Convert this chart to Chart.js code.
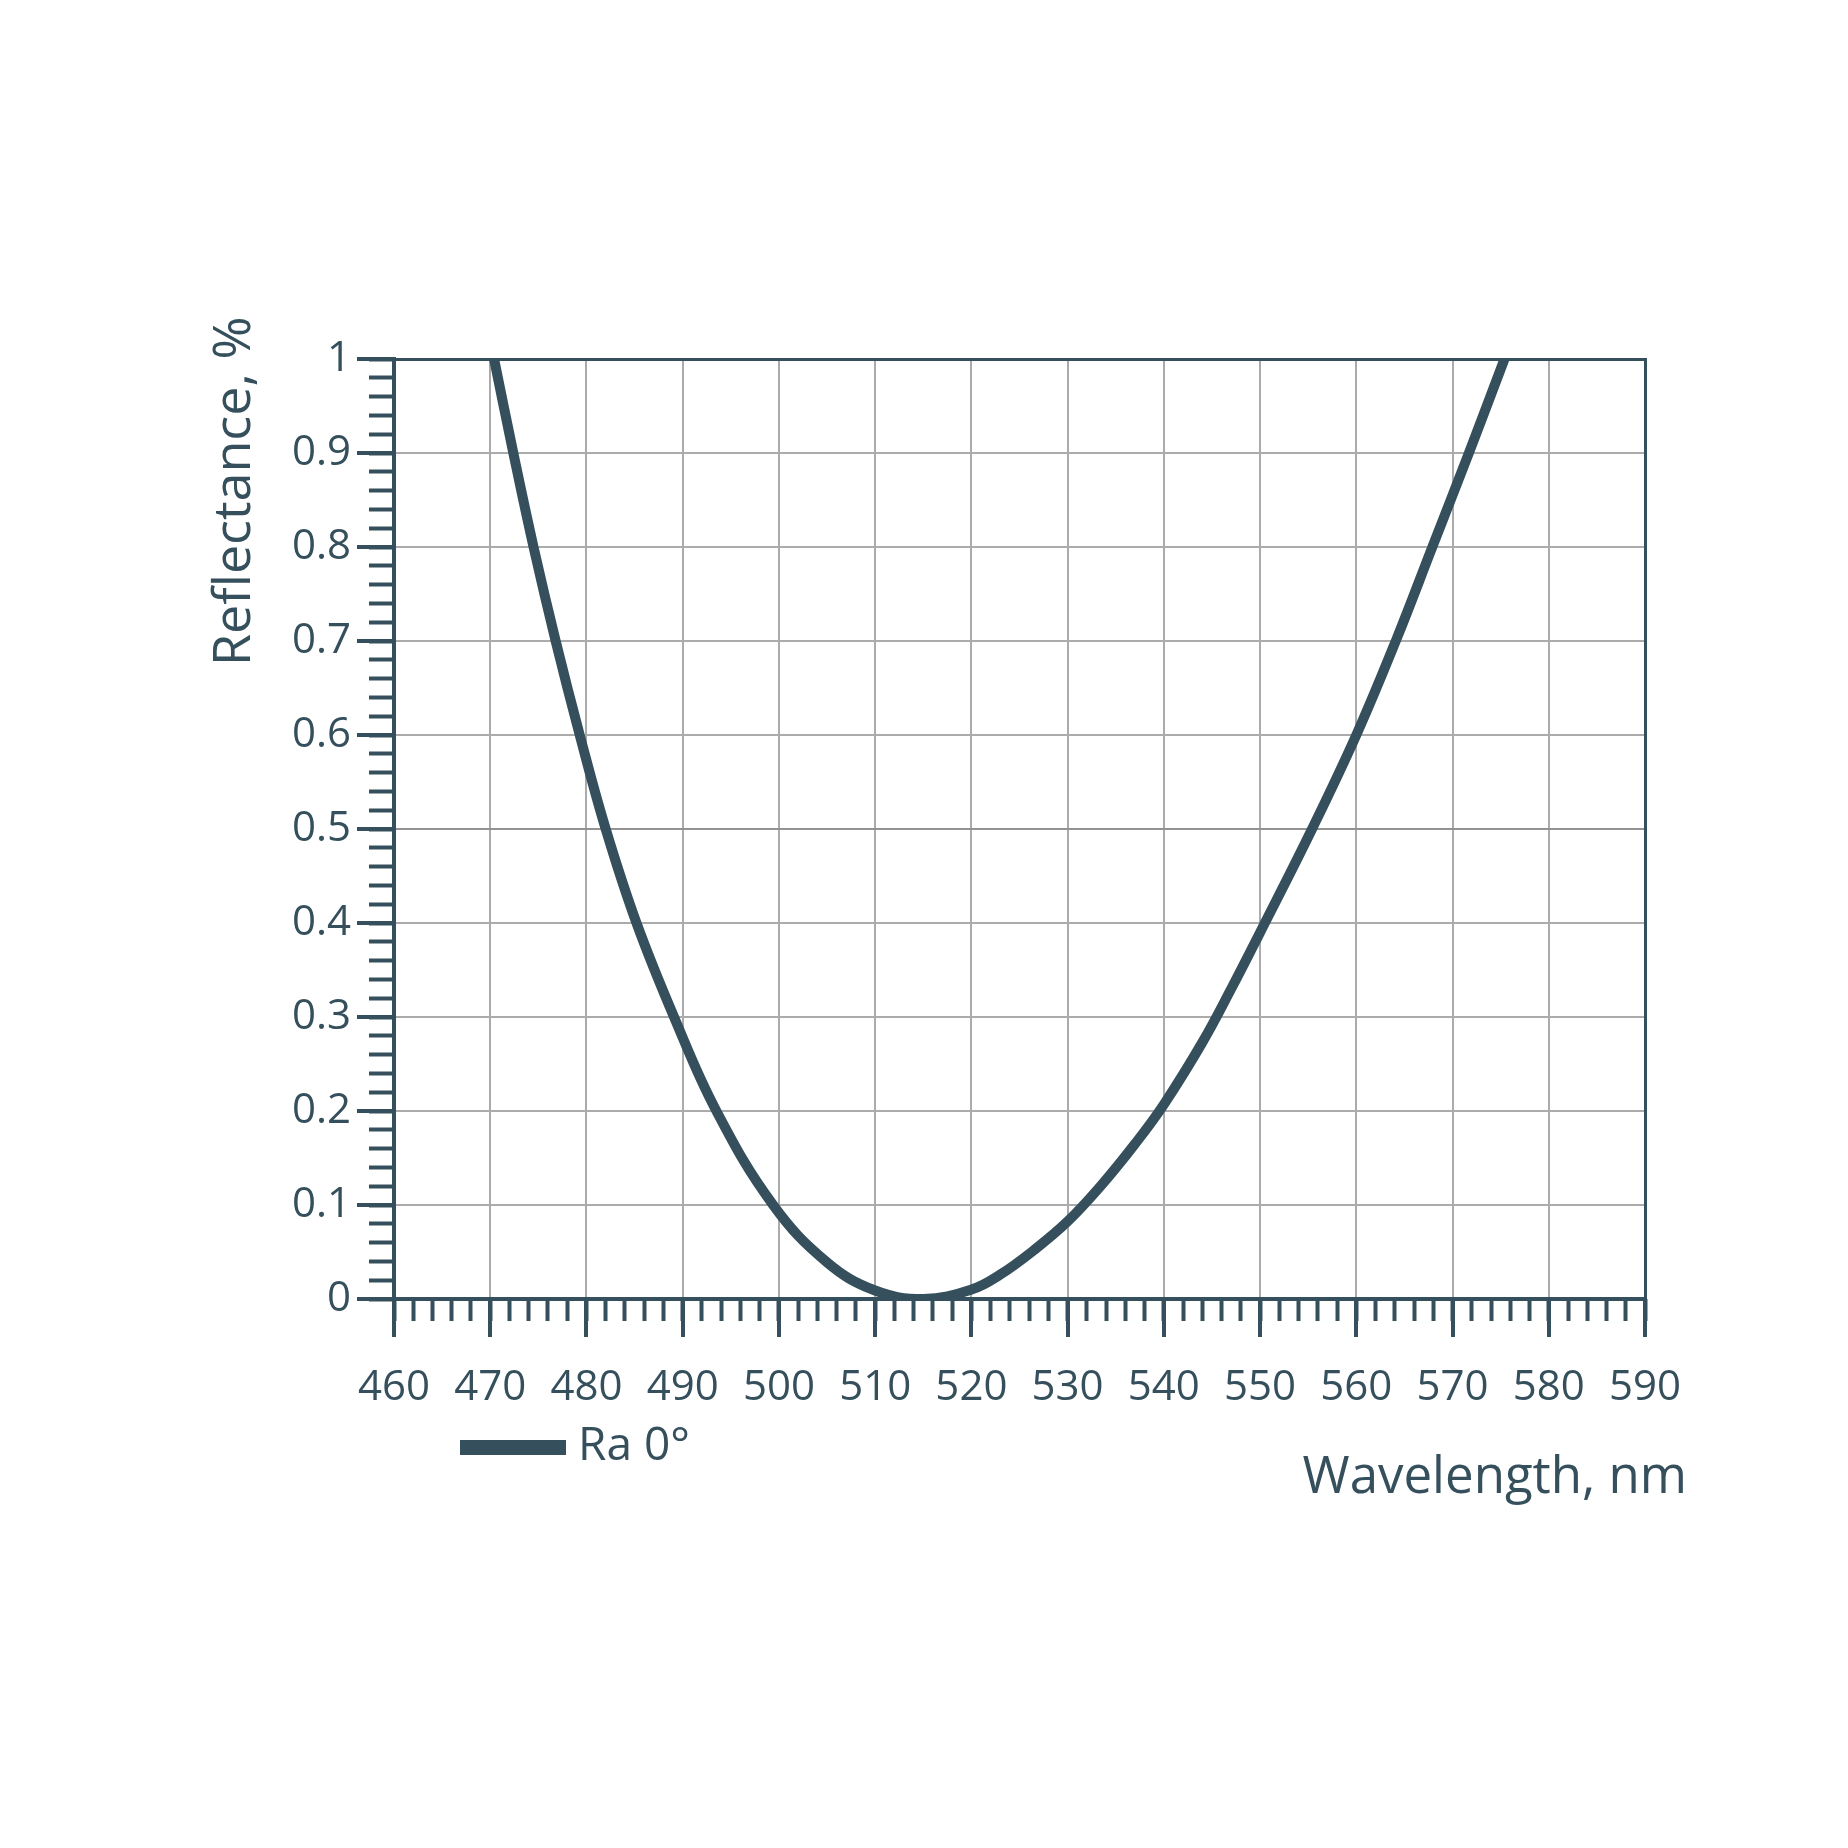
<!DOCTYPE html>
<html>
<head>
<meta charset="utf-8">
<script src="https://cdn.jsdelivr.net/npm/chart.js@4.4.1/dist/chart.umd.min.js"></script>
<style>
    body { margin: 0; background: #ffffff; }
    canvas { display: block; }
</style>
</head>
<body>
<canvas id="myChart" width="1848" height="1848"></canvas>
<script>
// dados (comprimento de onda em nm, refletancia)
let comprimentos = [470.4, 472.4, 474.5, 476.8, 479.3, 482.0, 485.2, 489.1, 493.5, 499.4, 505, 510, 515,
    520, 523, 526.5, 530, 533.5, 537, 540, 544, 547, 550, 555.4, 560, 564.1, 567.9, 571.7, 575.4];
let refletancia = [1.0, 0.9, 0.8, 0.7, 0.6, 0.5, 0.4, 0.3, 0.2, 0.1, 0.039, 0.009, 0.0,
    0.010, 0.026, 0.052, 0.0825, 0.121, 0.165, 0.207, 0.273, 0.330, 0.390, 0.5, 0.6, 0.7, 0.8, 0.9, 1.0];

// marcas dos eixos
let ticksX = [460, 470, 480, 490, 500, 510, 520, 530, 540, 550, 560, 570, 580, 590];
let ticksY = [0, 0.1, 0.2, 0.3, 0.4, 0.5, 0.6, 0.7, 0.8, 0.9, 1];

let legenda = "Ra 0°";
let tituloX = "Wavelength, nm";
let tituloY = "Reflectance, %";

const cor = "#35505c";
const corGrade = "#ababab";

Chart.defaults.font.family = "'Open Sans', sans-serif";
Chart.defaults.color = cor;

// titulos dos eixos e legenda desenhados por fora da area do grafico
const titulosPlugin = {
    id: "titulos",
    afterDraw: (chart) => {
        const ctx = chart.ctx;
        const area = chart.chartArea;
        const serie = chart.data.datasets[0];
        ctx.save();

        // legenda: barra + texto
        ctx.fillStyle = serie.borderColor;
        ctx.fillRect(area.left + 66, area.bottom + 141, 106, 15);
        ctx.fillStyle = cor;
        ctx.font = "46px 'Open Sans'";
        ctx.textBaseline = "middle";
        ctx.textAlign = "left";
        ctx.fillText(serie.label, area.left + 184, area.bottom + 148);

        ctx.font = "51px 'Open Sans'";
        ctx.textBaseline = "alphabetic";
        ctx.textAlign = "right";
        ctx.fillText(tituloX, area.right + 42, area.bottom + 194);

        ctx.font = "52px 'Open Sans'";
        ctx.translate(area.left - 144, area.top + 307);
        ctx.rotate(-Math.PI / 2);
        ctx.textAlign = "left";
        ctx.fillText(tituloY, 0, 0);
        ctx.restore();
    }
};

const pontos = comprimentos.map((x, i) => ({ x: x, y: refletancia[i] }));

const ctx = document.getElementById("myChart");

const lineChart = new Chart(ctx, {
    type: "line",
    data: {
        datasets: [{
            label: legenda,
            data: pontos,
            borderColor: cor,
            backgroundColor: cor,
            borderWidth: 10,
            pointRadius: 0,
            tension: 0.4,
            xAxisID: "x",
            yAxisID: "y"
        }]
    },
    options: {
        responsive: false,
        animation: false,
        devicePixelRatio: 1,
        layout: {
            padding: { left: 274, right: 203, top: 359, bottom: 419 }
        },
        plugins: {
            tooltip: { enabled: false },
            legend: { display: false }
        },
        scales: {
            x: {
                type: "linear",
                position: "bottom",
                weight: 1,
                min: 460,
                max: 590,
                afterBuildTicks: (scale) => { scale.ticks = ticksX.map((v) => ({ value: v })); },
                afterFit: (scale) => { scale.height = 130; },
                ticks: {
                    autoSkip: false,
                    maxRotation: 0,
                    padding: 26,
                    color: cor,
                    font: { size: 42 },
                    callback: (v) => String(v)
                },
                grid: {
                    color: corGrade,
                    lineWidth: 2,
                    tickColor: cor,
                    tickWidth: 4,
                    tickLength: 38
                },
                border: { color: cor, width: 4 }
            },
            xMenor: {
                type: "linear",
                position: "bottom",
                weight: 0,
                min: 460,
                max: 590,
                afterFit: (scale) => { scale.height = 0; },
                ticks: { display: false, stepSize: 2, maxTicksLimit: 1000, autoSkip: false },
                grid: {
                    drawOnChartArea: false,
                    tickColor: cor,
                    tickWidth: 4,
                    tickLength: 22
                },
                border: { display: false }
            },
            xTopo: {
                type: "linear",
                position: "top",
                min: 460,
                max: 590,
                afterFit: (scale) => { scale.height = 0; },
                ticks: { display: false },
                grid: { drawOnChartArea: false, drawTicks: false },
                border: { color: cor, width: 3 }
            },
            y: {
                type: "linear",
                position: "left",
                weight: 1,
                min: 0,
                max: 1,
                afterBuildTicks: (scale) => { scale.ticks = ticksY.map((v) => ({ value: v })); },
                afterFit: (scale) => { scale.width = 120; },
                ticks: {
                    autoSkip: false,
                    padding: 6,
                    color: cor,
                    font: { size: 42 },
                    callback: (v) => String(v)
                },
                grid: {
                    color: (c) => (c.tick && c.tick.value === 0.5 ? "#939393" : corGrade),
                    lineWidth: 2,
                    tickColor: cor,
                    tickWidth: 4,
                    tickLength: 37
                },
                border: { color: cor, width: 4 }
            },
            yMenor: {
                type: "linear",
                position: "left",
                weight: 0,
                min: 0,
                max: 1,
                afterFit: (scale) => { scale.width = 0; },
                ticks: { display: false, stepSize: 0.02, maxTicksLimit: 1000, autoSkip: false },
                grid: {
                    drawOnChartArea: false,
                    tickColor: cor,
                    tickWidth: 4,
                    tickLength: 25
                },
                border: { display: false }
            },
            yDireita: {
                type: "linear",
                position: "right",
                min: 0,
                max: 1,
                afterFit: (scale) => { scale.width = 0; },
                ticks: { display: false },
                grid: { drawOnChartArea: false, drawTicks: false },
                border: { color: cor, width: 3 }
            }
        }
    },
    plugins: [titulosPlugin]
});
</script>
</body>
</html>
